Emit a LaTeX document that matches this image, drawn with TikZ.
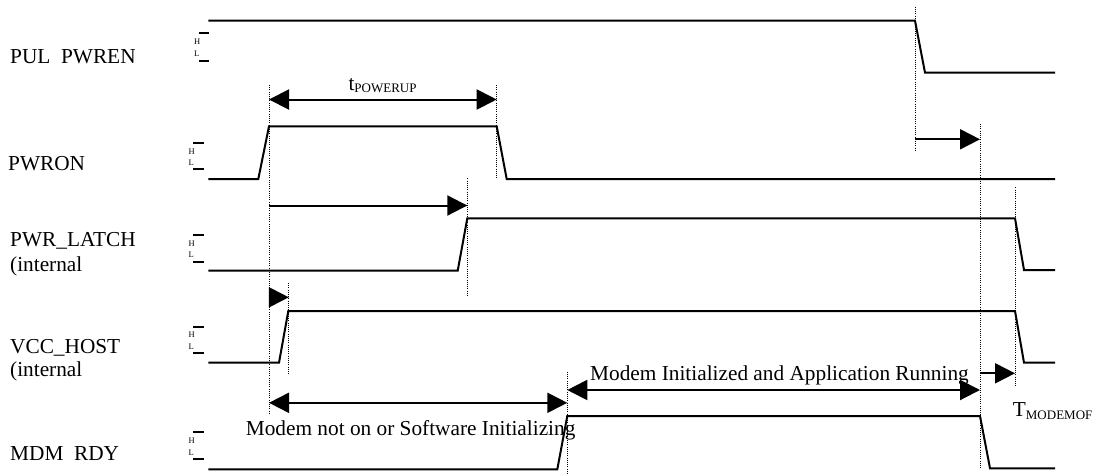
\documentclass[tikz,border=0pt]{standalone}
\usepackage{fontspec}
\setmainfont{Liberation Serif}
\usetikzlibrary{arrows.meta}
\begin{document}
\begin{tikzpicture}[x=1pt,y=1pt,yscale=-1,
  sig/.style={line width=2pt},
  guide/.style={line width=1pt,dash pattern=on 1pt off 1.2pt},
  lvlbar/.style={line width=2pt},
  dimarrow/.style={line width=2pt,-{Triangle[length=20pt,width=20pt]}},
  dimboth/.style={line width=2pt,{Triangle[length=20pt,width=20pt]}-{Triangle[length=20pt,width=20pt]}},
  lbl/.style={anchor=base west,inner sep=0pt,font=\fontsize{21.3}{25}\selectfont},
  lvl/.style={anchor=base west,inner sep=0pt,font=\fontsize{8.5}{9}\selectfont}]
\useasboundingbox (0,0) rectangle (1097,475);

%Signals
\draw [sig] (208.3,20.7) -- (915,20.7) -- (925,72.7) -- (1055,72.7) ;
\draw [sig] (208.3,179) -- (258.3,179) -- (269,126.3) -- (496.7,126.3) -- (506.7,179) -- (1055,179) ;
\draw [sig] (208.3,270.7) -- (457.7,270.7) -- (467.3,218.3) -- (1015,218.3) -- (1024,270) -- (1055,270) ;
\draw [sig] (208.3,362.7) -- (279,362.7) -- (288.3,311) -- (1015,311) -- (1024,362.7) -- (1055,362.7) ;
\draw [sig] (208.3,469.3) -- (557.3,469.3) -- (567.3,416) -- (980,416) -- (990,468.3) -- (1055,468.3) ;

%Dotted guides
\draw [guide] (269,85) -- (269,413.3) ;
\draw [guide] (496.7,85) -- (496.7,178.3) ;
\draw [guide] (467.3,178.3) -- (467.3,297) ;
\draw [guide] (288.3,283) -- (288.3,375) ;
\draw [guide] (567.3,371.7) -- (567.3,475) ;
\draw [guide] (915,6.7) -- (915,150) ;
\draw [guide] (980,124) -- (980,468) ;
\draw [guide] (1015,187.3) -- (1015,386.7) ;

%Timing arrows
\draw [dimboth] (269,99.5) -- (496.7,99.5) ;
\draw [dimarrow] (269,205.5) -- (467.3,205.5) ;
\draw [dimarrow] (269,297.3) -- (288.8,297.3) ;
\draw [dimboth] (269,402.8) -- (567.3,402.8) ;
\draw [dimboth] (567.3,390) -- (980,390) ;
\draw [dimarrow] (915,139.3) -- (980,139.3) ;
\draw [dimarrow] (980,373.3) -- (1015,373.3) ;

%Level marks
\draw [lvlbar] (199.3,33.3) -- (209.3,33.3) (199.3,60.7) -- (209.3,60.7) ;
\draw [lvlbar] (193.3,143.3) -- (204,143.3) (193.3,169.3) -- (204,169.3) ;
\draw [lvlbar] (193.3,235) -- (204,235) (193.3,261.7) -- (204,261.7) ;
\draw [lvlbar] (193.3,326.7) -- (204,326.7) (193.3,353.3) -- (204,353.3) ;
\draw [lvlbar] (193.3,432.3) -- (204,432.3) (193.3,459) -- (204,459) ;
\node [lvl] (hpwren) at (194,44.3) {H};
\node [lvl] (lpwren) at (194,56.7) {L};
\node [lvl] (hpwron) at (188.3,154.3) {H};
\node [lvl] (lpwron) at (188.3,165.3) {L};
\node [lvl] (hlatch) at (188.3,246) {H};
\node [lvl] (llatch) at (188.3,257.7) {L};
\node [lvl] (hvcc) at (188.3,337.7) {H};
\node [lvl] (lvcc) at (188.3,349.3) {L};
\node [lvl] (hmdm) at (188.3,443.3) {H};
\node [lvl] (lmdm) at (188.3,455) {L};

% Text Node
\node [lbl] (pwren) at (10,63.3) {PUL\hspace{0.5em}PWREN};
% Text Node
\node [lbl] (pwron) at (8,170) {PWRON};
% Text Node
\node [lbl] (latch) at (10,246.7) {PWR\_LATCH};
\node [lbl] (latchint) at (10,271) {(internal};
% Text Node
\node [lbl] (vcc) at (10,353.3) {VCC\_HOST};
\node [lbl] (vccint) at (10,376.7) {(internal};
% Text Node
\node [lbl] (mdm) at (10,460.7) {MDM\hspace{0.5em}RDY};
% Text Node
\node [lbl] (tpowerup) at (348.3,90) {t\raisebox{-2pt}{\fontsize{13}{15}\selectfont POWERUP}};
% Text Node
\node [lbl] (notready) at (245.7,435) {Modem not on or Software Initializing};
% Text Node
\node [lbl] (running) at (590,380) {Modem Initialized and Application Running};
% Text Node
\node [lbl] (tmodemof) at (1012.7,416.7) {T\raisebox{-3pt}{\fontsize{13}{15}\selectfont MODEMOF}};

\end{tikzpicture}
\end{document}
